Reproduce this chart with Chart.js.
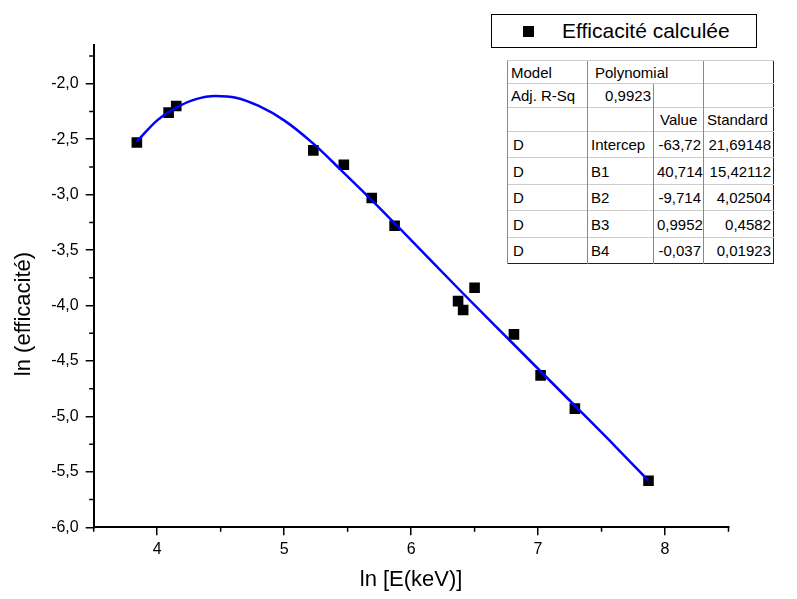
<!DOCTYPE html>
<html>
<head>
<meta charset="utf-8">
<title>ln(efficacité) vs ln(E)</title>
<script src="https://cdn.jsdelivr.net/npm/chart.js@4.4.1/dist/chart.umd.min.js"></script>
<style>
  html, body { margin: 0; padding: 0; background: #fff; }
  #wrap { position: relative; width: 797px; height: 599px; font-family: "Liberation Sans", Arial, sans-serif; color: #000; }
  #chart { position: absolute; left: 0; top: 0; }
  #legend {
    position: absolute; left: 491px; top: 14px; width: 266px; height: 34px;
    box-sizing: border-box; border: 1px solid #000; background: #fff;
    font-size: 21px; line-height: 32px; white-space: nowrap;
  }
  #legend .mark { position: absolute; left: 31px; top: 11px; width: 11px; height: 11px; background: #000; }
  #legend .txt { position: absolute; left: 70px; top: 0; }
  #fit {
    position: absolute; left: 507px; top: 60px; width: 266px; border-collapse: collapse;
    font-size: 15px; background: #fff; table-layout: fixed;
    border: 1.5px solid #222;
  }
  #fit td { padding: 0 2px 0 3px; white-space: nowrap; overflow: hidden; border-left: 1px solid #888; border-top: 1px solid #ccc; }
  #fit td.r { text-align: right; }
</style>
</head>
<body>
<div id="wrap">
  <canvas id="chart" width="797" height="599"></canvas>
  <div id="legend"><span class="mark"></span><span class="txt">Efficacité calculée</span></div>
  <table id="fit"></table>
</div>
<script>
// ── Data ──────────────────────────────────────────────────────
const X_MEAS = [3.84, 4.09, 4.15, 5.23, 5.47, 5.69, 5.87, 6.37, 6.41, 6.50, 6.81, 7.02, 7.29, 7.87];
const Y_MEAS = [-2.53, -2.26, -2.20, -2.60, -2.73, -3.03, -3.28, -3.96, -4.04, -3.84, -4.26, -4.63, -4.93, -5.58];

// fitted polynomial curve
const X_FIT = [3.84, 4.00, 4.15, 4.30, 4.46, 4.62, 4.80, 5.00, 5.23, 5.45, 5.70, 6.00, 6.40, 6.80, 7.20, 7.60, 7.87];
const Y_FIT = [-2.52, -2.33, -2.215, -2.14, -2.11, -2.125, -2.20, -2.33, -2.54, -2.78, -3.06, -3.41, -3.88, -4.34, -4.80, -5.26, -5.58];

const X_TICKS = [4, 5, 6, 7, 8];
const X_MINOR = [3.5, 4.5, 5.5, 6.5, 7.5, 8.5];
const Y_TICKS = [-6.0, -5.5, -5.0, -4.5, -4.0, -3.5, -3.0, -2.5, -2.0];
const Y_MINOR = [-5.75, -5.25, -4.75, -4.25, -3.75, -3.25, -2.75, -2.25, -1.75];

const X_TITLE = 'ln [E(keV)]';
const Y_TITLE = 'ln (efficacité)';

const TABLE_ROWS = [
  ['Model', 'Polynomial', '', ''],
  ['Adj. R-Sq', '0,9923', '', ''],
  ['', '', 'Value', 'Standard'],
  ['D', 'Intercep', '-63,72', '21,69148'],
  ['D', 'B1', '40,714', '15,42112'],
  ['D', 'B2', '-9,714', '4,02504'],
  ['D', 'B3', '0,9952', '0,4582'],
  ['D', 'B4', '-0,037', '0,01923'],
];

// ── Fit table ─────────────────────────────────────────────────
const colW = [80, 66, 50, 70];
const rowH = [23, 24, 24, 26, 27, 26, 27, 26];
const tbl = document.getElementById('fit');
tbl.innerHTML = '<colgroup>' + colW.map(w => `<col style="width:${w}px">`).join('') + '</colgroup>' +
  TABLE_ROWS.map((r, i) => {
    const h = `style="height:${rowH[i]}px"`;
    if (i === 0) return `<tr ${h}><td>${r[0]}</td><td colspan="2" style="padding-left:7px">${r[1]}</td><td></td></tr>`;
    if (i === 1) return `<tr ${h}><td>${r[0]}</td><td class="r">${r[1]}</td><td></td><td></td></tr>`;
    if (i === 2) return `<tr ${h}><td></td><td></td><td style="padding-left:6px">${r[2]}</td><td>${r[3]}</td></tr>`;
    return `<tr ${h}><td style="padding-left:5px">${r[0]}</td><td>${r[1]}</td><td class="r">${r[2]}</td><td class="r">${r[3]}</td></tr>`;
  }).join('');

// ── Minor ticks + rotated y title ─────────────────────────────
const extras = {
  id: 'extras',
  afterDraw(chart) {
    const { ctx, scales: { x, y } } = chart;
    ctx.save();
    ctx.strokeStyle = '#000';
    ctx.lineWidth = 1.5;
    ctx.beginPath();
    X_MINOR.forEach(v => {
      const px = x.getPixelForValue(v);
      ctx.moveTo(px, x.top); ctx.lineTo(px, x.top + 4.5);
    });
    Y_MINOR.forEach(v => {
      const py = y.getPixelForValue(v);
      ctx.moveTo(y.right, py); ctx.lineTo(y.right - 4.5, py);
    });
    ctx.stroke();

    // Origin centres this title a bit lower than the axis middle
    ctx.translate(24, 314);
    ctx.rotate(-Math.PI / 2);
    ctx.fillStyle = '#000';
    ctx.font = '22px "Liberation Sans"';
    ctx.textAlign = 'center';
    ctx.textBaseline = 'middle';
    ctx.fillText(Y_TITLE, 0, 0);
    ctx.restore();
  }
};

const FONT = 'Liberation Sans';
const pts = (xs, ys) => xs.map((x, i) => ({ x, y: ys[i] }));

new Chart(document.getElementById('chart'), {
  type: 'scatter',
  data: {
    datasets: [
      {
        label: 'Fit',
        data: pts(X_FIT, Y_FIT),
        showLine: true,
        borderColor: '#0000ff',
        borderWidth: 2.5,
        pointRadius: 0,
        cubicInterpolationMode: 'monotone',
        order: 0,
      },
      {
        label: 'Efficacité calculée',
        data: pts(X_MEAS, Y_MEAS),
        pointStyle: 'rect',
        pointRadius: 7.5,
        pointBackgroundColor: '#000',
        pointBorderColor: '#000',
        pointBorderWidth: 0,
        order: 1,
      },
    ]
  },
  options: {
    responsive: false,
    animation: false,
    layout: { padding: { left: 0, right: 68.5, top: 45, bottom: 0 } },
    plugins: { legend: { display: false }, tooltip: { enabled: false } },
    scales: {
      x: {
        type: 'linear', min: 3.5, max: 8.5,
        afterBuildTicks: s => { s.ticks = X_TICKS.map(value => ({ value })); },
        afterFit: s => { s.height = 71.7; },
        border: { display: true, color: '#000', width: 2 },
        grid: { drawOnChartArea: false, drawTicks: true, tickLength: 8, color: '#000', lineWidth: 1.5 },
        ticks: { color: '#000', font: { family: FONT, size: 16 }, padding: 5, maxRotation: 0, callback: v => String(v) },
        title: { display: true, text: X_TITLE, color: '#000', font: { family: FONT, size: 22 }, padding: { bottom: 6 } },
      },
      y: {
        type: 'linear', min: -6, max: -1.65,
        afterBuildTicks: s => { s.ticks = Y_TICKS.map(value => ({ value })); },
        afterFit: s => { s.width = 93.7; },
        border: { display: true, color: '#000', width: 2 },
        grid: { drawOnChartArea: false, drawTicks: true, tickLength: 8, color: '#000', lineWidth: 1.5 },
        ticks: { color: '#000', font: { family: FONT, size: 16 }, padding: 7, callback: v => v.toFixed(1).replace('.', ',') },
      }
    }
  },
  plugins: [extras]
});
</script>
</body>
</html>
